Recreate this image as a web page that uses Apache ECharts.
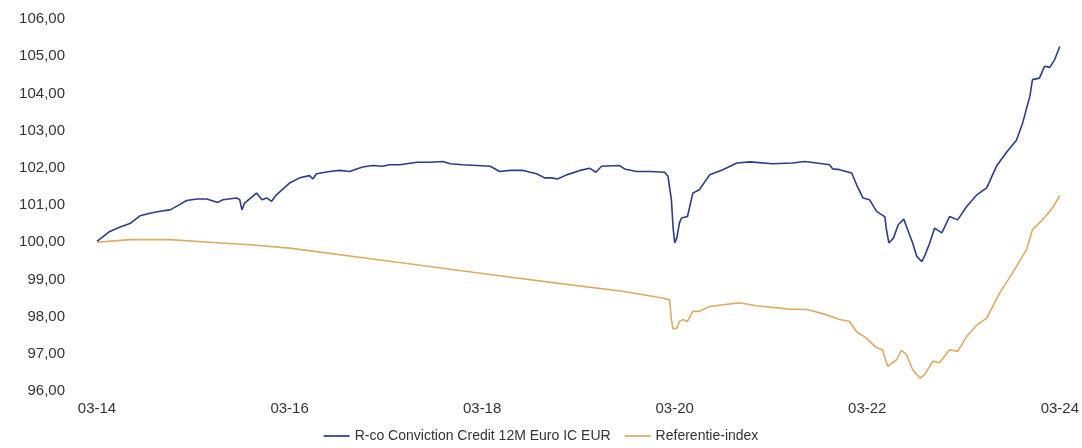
<!DOCTYPE html>
<html>
<head>
<meta charset="utf-8">
<script src="https://cdn.jsdelivr.net/npm/echarts@6/dist/echarts.min.js"></script>
<style>
  html, body { margin: 0; padding: 0; background: #fff; }
  #chart { width: 1082px; height: 448px; }
</style>
</head>
<body>
<div id="chart"></div>
<script>
var seriesNames = ['R-co Conviction Credit 12M Euro IC EUR', 'Referentie-index'];

// fonds (blauw)
var fundDates = ['2014-03-01','2014-04-19','2014-05-28','2014-07-04','2014-08-12','2014-09-19','2014-10-27','2014-12-04',
  '2015-01-10','2015-02-06','2015-03-15','2015-04-22','2015-06-03','2015-06-22','2015-08-13','2015-08-25','2015-09-03','2015-09-13',
  '2015-10-28','2015-11-18','2015-12-06','2015-12-24','2016-01-13','2016-03-01','2016-04-09','2016-05-16','2016-05-28','2016-06-12',
  '2016-08-01','2016-09-09','2016-10-16','2016-11-12','2016-12-04','2017-01-12','2017-02-19','2017-03-15','2017-04-24','2017-06-27',
  '2017-08-16','2017-10-04','2017-11-01','2017-12-19','2018-02-11','2018-04-01','2018-05-07','2018-06-15','2018-08-04','2018-09-25',
  '2018-10-25','2018-11-21','2018-12-13','2019-01-17','2019-03-07','2019-04-13','2019-05-06','2019-05-28','2019-08-05','2019-08-24',
  '2019-10-09','2019-11-28','2020-01-24','2020-02-06','2020-02-19','2020-02-25','2020-03-01','2020-03-09','2020-03-19','2020-03-27',
  '2020-04-19','2020-05-09','2020-06-03','2020-07-12','2020-09-01','2020-10-24','2020-12-13','2021-03-07','2021-05-22','2021-07-07',
  '2021-08-22','2021-10-10','2021-10-22','2021-11-18','2022-01-03','2022-01-21','2022-02-15','2022-03-10','2022-04-06','2022-05-07',
  '2022-05-13','2022-05-22','2022-06-09','2022-06-27','2022-07-18','2022-07-28','2022-08-21','2022-09-06','2022-09-25','2022-10-06',
  '2022-10-25','2022-11-13','2022-12-10','2023-01-09','2023-02-09','2023-03-13','2023-04-22','2023-05-28','2023-07-04','2023-08-12',
  '2023-09-19','2023-10-12','2023-11-09','2023-11-19','2023-12-15','2024-01-04','2024-01-24','2024-02-12','2024-03-01'];
var fundValues = [100.02,100.29,100.41,100.50,100.71,100.78,100.83,100.87,
  101.01,101.12,101.16,101.16,101.07,101.14,101.19,101.14,100.87,101.05,
  101.32,101.14,101.19,101.10,101.28,101.59,101.73,101.79,101.70,101.84,
  101.90,101.93,101.90,101.97,102.02,102.06,102.04,102.08,102.08,102.15,
  102.15,102.17,102.11,102.08,102.06,102.04,101.90,101.93,101.93,101.84,
  101.73,101.73,101.70,101.81,101.93,101.99,101.88,102.04,102.06,101.97,
  101.90,101.90,101.88,101.77,101.14,100.42,99.98,100.11,100.52,100.65,
  100.69,101.32,101.41,101.81,101.95,102.13,102.16,102.11,102.13,102.17,
  102.13,102.08,101.97,101.95,101.86,101.55,101.19,101.14,100.83,100.68,
  100.34,99.98,100.11,100.47,100.62,100.42,99.98,99.62,99.48,99.64,
  99.98,100.38,100.25,100.69,100.60,100.96,101.28,101.46,102.04,102.42,
  102.74,103.20,103.92,104.37,104.41,104.73,104.70,104.91,105.26];

// referentie-index (oranje)
var indexDates = ['2014-03-01','2014-07-04','2014-12-04','2015-05-01','2015-10-03','2016-03-01','2017-03-15','2018-04-01',
  '2018-12-10','2019-08-16','2020-01-15','2020-02-12','2020-02-19','2020-02-25','2020-03-09','2020-03-19','2020-04-01','2020-04-19',
  '2020-05-09','2020-06-03','2020-07-12','2020-09-01','2020-11-01','2021-01-07','2021-05-10','2021-07-15','2021-09-15','2021-11-18',
  '2021-12-25','2022-01-21','2022-02-28','2022-04-06','2022-04-28','2022-05-18','2022-05-22','2022-06-21','2022-07-09','2022-07-28',
  '2022-08-21','2022-09-18','2022-10-06','2022-11-06','2022-12-01','2023-01-09','2023-02-09','2023-03-13','2023-04-22','2023-05-28',
  '2023-07-16','2023-09-04','2023-10-27','2023-11-19','2023-12-15','2024-01-13','2024-02-03','2024-03-01'];
var indexValues = [100.00,100.07,100.07,100.00,99.93,99.84,99.49,99.13,
  98.90,98.68,98.50,98.45,97.92,97.67,97.69,97.87,97.92,97.87,
  98.14,98.14,98.27,98.32,98.37,98.29,98.20,98.19,98.08,97.92,
  97.87,97.60,97.42,97.16,97.11,96.66,96.71,96.84,97.09,96.98,
  96.57,96.35,96.44,96.80,96.76,97.11,97.06,97.47,97.78,97.96,
  98.63,99.17,99.80,100.34,100.52,100.74,100.92,101.25];

// x-as: maanden sinds 03-2014, labels om de 24 maanden
var startYear = 2014, startMonth = 3;

function monthsSinceStart(d) {
  var p = d.split('-');
  return (+p[0] - startYear) * 12 + (+p[1] - startMonth) + (+p[2] - 1) / 30.4;
}
function pairs(dates, vals) {
  return dates.map(function (d, i) { return [monthsSinceStart(d), vals[i]]; });
}
function pad(n) { return (n < 10 ? '0' : '') + n; }

var myChart = echarts.init(document.getElementById('chart'));
var font = 'Liberation Sans, Arial, sans-serif';

var option = {
  animation: false,
  grid: { left: 97, right: 22, top: 19, bottom: 57 },
  legend: {
    bottom: 0,
    left: 'center',
    icon: 'path://M0,0 L30,0 L30,2 L0,2 Z',
    itemWidth: 26,
    itemHeight: 2,
    itemGap: 14,
    textStyle: { fontFamily: font, fontSize: 14, color: '#333' },
    data: seriesNames
  },
  xAxis: {
    type: 'value',
    min: 0,
    max: 120,
    interval: 24,
    axisLine: { show: false },
    axisTick: { show: false },
    splitLine: { show: false },
    axisLabel: {
      margin: 10,
      fontFamily: font,
      fontSize: 15,
      color: '#333',
      formatter: function (v) {
        var total = startMonth - 1 + v;
        var y = startYear + Math.floor(total / 12);
        return pad(total % 12 + 1) + '-' + String(y).slice(2);
      }
    }
  },
  yAxis: {
    type: 'value',
    min: 96,
    max: 106,
    interval: 1,
    axisLine: { show: false },
    axisTick: { show: false },
    splitLine: { show: false },
    axisLabel: {
      margin: 32,
      fontFamily: font,
      fontSize: 15,
      color: '#333',
      formatter: function (v) { return v.toFixed(2).replace('.', ','); }
    }
  },
  series: [
    {
      name: seriesNames[0],
      type: 'line',
      showSymbol: false,
      data: pairs(fundDates, fundValues),
      lineStyle: { color: '#2d3c88', width: 1.6 },
      itemStyle: { color: '#2d3c88' }
    },
    {
      name: seriesNames[1],
      type: 'line',
      showSymbol: false,
      data: pairs(indexDates, indexValues),
      lineStyle: { color: '#dcab62', width: 1.6 },
      itemStyle: { color: '#dcab62' }
    }
  ]
};

myChart.setOption(option);
</script>
</body>
</html>
